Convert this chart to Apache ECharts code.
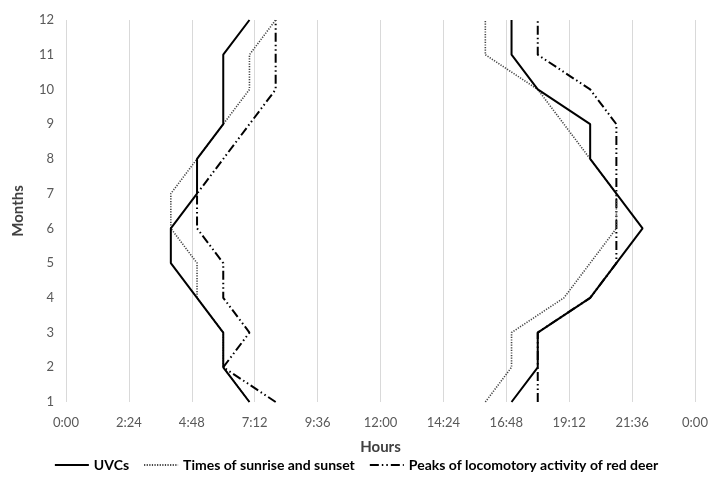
<!DOCTYPE html>
<html>
<head>
<meta charset="utf-8">
<script src="https://cdn.jsdelivr.net/npm/echarts@6/dist/echarts.min.js"></script>
<style>
html,body{margin:0;padding:0;background:#fff;}
#c{width:712px;height:477px;}
</style>
</head>
<body>
<div id="c"></div>
<script>
// Months (y axis)
const months = [1,2,3,4,5,6,7,8,9,10,11,12];
// Hours of day (x axis) per month
const uvcMorning     = [7, 6, 6, 5, 4, 4, 5, 5, 6, 6, 6, 7];
const uvcEvening     = [17, 18, 18, 20, 21, 22, 21, 20, 20, 18, 17, 17];
const sunMorning     = [7, 6, 6, 5, 5, 4, 4, 5, 6, 7, 7, 8];
const sunEvening     = [16, 17, 17, 19, 20, 21, 21, 20, 19, 18, 16, 16];
const deerMorning    = [8, 6, 7, 6, 6, 5, 5, 6, 7, 8, 8, 8];
const deerEvening    = [18, 18, 18, 20, 21, 21, 21, 21, 21, 20, 18, 18];
const seriesNames = ['UVCs', 'Times of sunrise and sunset', 'Peaks of locomotory activity of red deer'];
const xTickMinutes = 144; // 2:24 steps

function pts(hours){ return hours.map((h,i)=>[h*60, months[i]]); }
function fmt(v){ const m = Math.round(v) % 1440; return Math.floor(m/60) + ':' + String(m%60).padStart(2,'0'); }

const FONT = 'Lato, "Open Sans", sans-serif';
const styles = [
  {color:'#000', width:2, type:'solid'},
  {color:'#444', width:1.6, type:[1.2,1.4]},
  {color:'#000', width:2, type:[9,3,1.5,3,1.5,3]}
];
const groups = [[uvcMorning,uvcEvening],[sunMorning,sunEvening],[deerMorning,deerEvening]];
const series = [];
groups.forEach((g,gi)=>{
  g.forEach(arr=>{
    series.push({
      name: seriesNames[gi], type:'line', data: pts(arr), symbol:'none',
      lineStyle: Object.assign({}, styles[gi]), itemStyle:{color:styles[gi].color},
      animation:false, z: 3 - gi
    });
  });
});

const chart = echarts.init(document.getElementById('c'), null, {renderer:'canvas'});
chart.setOption({
  animation:false,
  grid:{left:66, right:17, top:20, bottom:75},
  legend:{
    bottom:0, left:'center', itemWidth:34, itemHeight:10, itemGap:14,
    itemStyle:{opacity:0},
    textStyle:{fontFamily:FONT, fontWeight:'bold', fontSize:14, color:'#000'},
    data: seriesNames
  },
  xAxis:{
    type:'value', min:0, max:1440, interval:xTickMinutes,
    name:'Hours', nameLocation:'middle', nameGap:38,
    nameTextStyle:{fontFamily:FONT, fontWeight:'bold', fontSize:15, color:'#404040'},
    axisLine:{show:false}, axisTick:{show:false},
    axisLabel:{formatter:fmt, color:'#595959', fontSize:13, margin:14, fontFamily:FONT},
    splitLine:{show:true, lineStyle:{color:'#d9d9d9', width:1}}
  },
  yAxis:{
    type:'value', min:1, max:12, interval:1,
    name:'Months', nameLocation:'middle', nameGap:40, nameRotate:90,
    nameTextStyle:{fontFamily:FONT, fontWeight:'bold', fontSize:15, color:'#404040'},
    axisLine:{show:false}, axisTick:{show:false},
    axisLabel:{color:'#595959', fontSize:13, margin:12, fontFamily:FONT},
    splitLine:{show:false}
  },
  series: series
});
</script>
</body>
</html>
